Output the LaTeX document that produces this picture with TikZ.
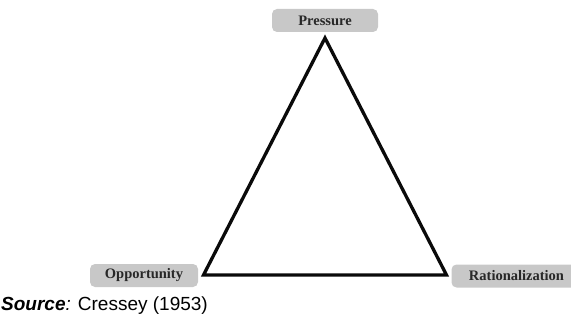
\documentclass[tikz,border=0pt]{standalone}
\usepackage{fontspec}
\setmainfont{Liberation Serif}
\newfontfamily\srcfont{Liberation Sans}
\usetikzlibrary{calc,positioning}
\definecolor{ink}{RGB}{10,10,10}
\definecolor{labeltext}{RGB}{40,40,40}
\definecolor{labelfill}{RGB}{200,200,200}
\tikzset{
  vertexbox/.style={
    fill=labelfill, draw=none, rounded corners=5pt,
    minimum height=23pt, minimum width=#1,
    align=center, font=\fontsize{14.5}{16}\selectfont\bfseries,
    text=labeltext, inner sep=0pt,
  },
  vertexbox/.default=106pt,
  triline/.style={draw=ink, line width=3.3pt, line join=miter},
  srclbl/.style={anchor=west, font=\srcfont\fontsize{19}{22}\selectfont, text=black, inner sep=0pt},
}
\begin{document}
\begin{tikzpicture}[x=1pt,y=-1pt]
  \useasboundingbox (0,0) rectangle (571,329);

  % Corner labels
  \node[vertexbox=106pt] (pressure) at (325,20.5) {Pressure};
  \node[vertexbox=108pt] (opportunity) at (144,275.5) {Opportunity};
  \node[vertexbox=130pt] (rational) at (516.5,276) {Rationalization};

  % Triangle corners
  \coordinate (top) at (325,38);
  \coordinate (left) at (203.5,275);
  \coordinate (right) at (446.5,275);
  \draw[triline] (top) -- (left) -- (right) -- cycle;

  % Source line
  \node[srclbl] (source) at (1,306) {\textbf{\textit{Source}}\textit{:} Cressey (1953)};
\end{tikzpicture}
\end{document}
